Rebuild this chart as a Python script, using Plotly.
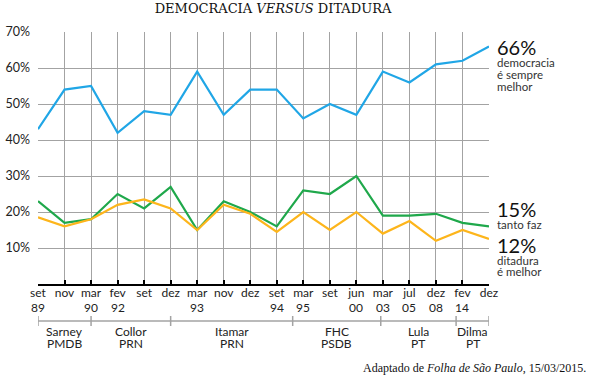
import plotly.graph_objects as go

months = ["set", "nov", "mar", "fev", "set", "dez", "mar", "nov", "dez", "set",
          "mar", "set", "jun", "mar", "jul", "dez", "fev", "dez"]
years = ["89", "", "90", "92", "", "", "93", "", "", "94",
         "95", "", "00", "03", "05", "08", "14", ""]
democracia = [43, 54, 55, 42, 48, 47, 59, 47, 54, 54, 46, 50, 47, 59, 56, 61, 62, 66]
tanto_faz = [23, 17, 18, 25, 21, 27, 15, 23, 20, 16, 26, 25, 30, 19, 19, 19.5, 17, 16]
ditadura = [18.5, 16, 18, 22, 23.5, 21, 15, 22, 19.5, 14.5, 20, 15, 20, 14, 17.5, 12, 15, 12.5]

presidents = ["Sarney", "Collor", "Itamar", "FHC", "Lula", "Dilma"]
parties = ["PMDB", "PRN", "PRN", "PSDB", "PT", "PT"]
# boundaries of each presidency along the category axis (index units)
bounds = [0, 2, 5, 9.6, 12.92, 15.76, 17]

x = list(range(len(months)))

BLUE = "#20a6e6"
GREEN = "#1fa84b"
ORANGE = "#fdb51b"
GRID = "#a3a3a3"
TXT = "#222222"
SANS = "Lato"

fig = go.Figure()
for vals, col in [(democracia, BLUE), (tanto_faz, GREEN), (ditadura, ORANGE)]:
    fig.add_trace(go.Scatter(x=x, y=vals, mode="lines",
                             line=dict(color=col, width=2.2),
                             cliponaxis=False, hoverinfo="skip"))

fig.update_layout(
    width=590, height=379,
    margin=dict(l=38, r=101, t=32, b=95, autoexpand=False),
    paper_bgcolor="white", plot_bgcolor="white",
    showlegend=False,
    font=dict(family=SANS, color=TXT, size=12),
    title=dict(text="DEMOCRACIA <i>VERSUS</i> DITADURA",
               font=dict(family="DejaVu Serif", size=13, color="#111111"),
               x=273 / 590, xanchor="center", xref="container",
               y=1 - 8 / 379, yanchor="middle", yref="container"),
)

fig.update_xaxes(range=[0, 17], tickmode="array", tickvals=x, ticktext=months,
                 automargin=False,
                 showgrid=True, gridcolor=GRID, gridwidth=1,
                 showline=True, linecolor="black", linewidth=1.5,
                 ticks="inside", ticklen=4, tickcolor="black", tickwidth=1.5,
                 ticklabelstandoff=-3,
                 tickfont=dict(size=12, color=TXT, family=SANS),
                 zeroline=False, fixedrange=True)
fig.update_yaxes(range=[0, 70], tickmode="array",
                 tickvals=[10, 20, 30, 40, 50, 60, 70],
                 ticktext=["10%", "20%", "30%", "40%", "50%", "60%", "70%"],
                 automargin=False,
                 showgrid=True, gridcolor=GRID, gridwidth=1,
                 showline=False, zeroline=False, ticks="",
                 ticklabelstandoff=7,
                 tickfont=dict(size=12.5, color=TXT, family=SANS), fixedrange=True)

PH = 252.0
PW = 451.0
def py(pix):  # pixel row to paper coordinate
    return (284 - pix) / PH

# second line of x tick labels (years)
for xi, yr in zip(x, years):
    if yr:
        fig.add_annotation(x=xi, y=py(307), xref="x", yref="paper", text=yr,
                           showarrow=False, xanchor="center", yanchor="middle",
                           font=dict(size=12, color=TXT, family=SANS))

# presidency bracket
fig.add_shape(type="line", xref="x", yref="paper", x0=bounds[0], x1=bounds[-1],
              y0=py(321), y1=py(321), line=dict(color=GRID, width=1.5))
for b in bounds:
    fig.add_shape(type="line", xref="x", yref="paper", x0=b, x1=b,
                  y0=py(316), y1=py(326), line=dict(color=GRID, width=1.5))
for i, (name, party) in enumerate(zip(presidents, parties)):
    cx = (bounds[i] + bounds[i + 1]) / 2
    for txt, pix in [(name, 331), (party, 343)]:
        fig.add_annotation(x=cx, y=py(pix), xref="x", yref="paper",
                           text=txt, showarrow=False,
                           font=dict(size=12, color=TXT, family=SANS),
                           xanchor="center", yanchor="middle")

# right-side labels
right = [("66%", 47, 20), ("democracia", 62, 11.5), ("é sempre", 74, 11.5), ("melhor", 86, 11.5),
         ("15%", 209, 20), ("tanto faz", 224, 11.5),
         ("12%", 245, 20), ("ditadura", 260, 11.5), ("é melhor", 271, 11.5)]
for txt, pix, sz in right:
    fig.add_annotation(x=1, xref="paper", xshift=6, y=py(pix), yref="paper",
                       text=txt, showarrow=False, align="left",
                       xanchor="left", yanchor="middle",
                       font=dict(size=sz, color="#111111" if "%" in txt else "#333333", family=SANS))

fig.add_annotation(x=1 + (588 - 489) / PW, xref="paper", y=py(368), yref="paper",
                   text="Adaptado de <i>Folha de São Paulo</i>, 15/03/2015.",
                   showarrow=False, xanchor="right", yanchor="middle",
                   font=dict(family="Liberation Serif", size=12, color="#111111"))

fig.write_html("out.html", config={"displayModeBar": False},
               post_script="document.body.style.margin='0';document.body.style.padding='0';")
